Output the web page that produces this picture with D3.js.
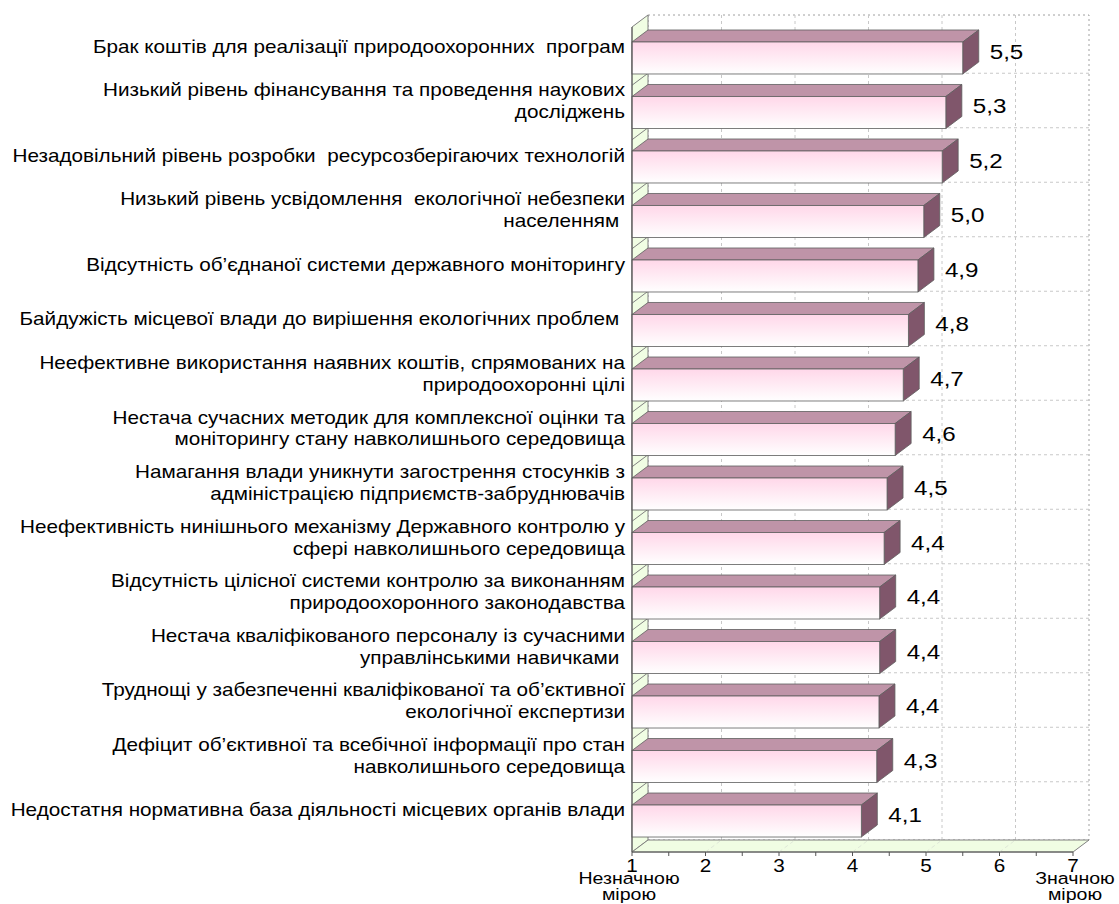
<!DOCTYPE html>
<html>
<head>
<meta charset="utf-8">
<script src="https://cdn.jsdelivr.net/npm/d3@7"></script>
<style>
  body { margin: 0; background: #fff; }
  text { font-family: "Liberation Sans", Arial, sans-serif; fill: #000; white-space: pre; }
</style>
</head>
<body>
<svg id="chart" width="1119" height="904"></svg>
<script>
// categories (top to bottom), each label split into lines
var categories = [
  ['Брак коштів для реалізації природоохоронних  програм'],
  ['Низький рівень фінансування та проведення наукових', 'досліджень'],
  ['Незадовільний рівень розробки  ресурсозберігаючих технологій'],
  ['Низький рівень усвідомлення  екологічної небезпеки', 'населенням '],
  ['Відсутність об’єднаної системи державного моніторингу'],
  ['Байдужість місцевої влади до вирішення екологічних проблем '],
  ['Неефективне використання наявних коштів, спрямованих на', 'природоохоронні цілі'],
  ['Нестача сучасних методик для комплексної оцінки та', 'моніторингу стану навколишнього середовища'],
  ['Намагання влади уникнути загострення стосунків з', 'адміністрацією підприємств-забруднювачів'],
  ['Неефективність нинішнього механізму Державного контролю у', 'сфері навколишнього середовища'],
  ['Відсутність цілісної системи контролю за виконанням', 'природоохоронного законодавства'],
  ['Нестача кваліфікованого персоналу із сучасними', 'управлінськими навичками '],
  ['Труднощі у забезпеченні кваліфікованої та об’єктивної', 'екологічної експертизи'],
  ['Дефіцит об’єктивної та всебічної інформації про стан', 'навколишнього середовища'],
  ['Недостатня нормативна база діяльності місцевих органів влади']
];

// mean score
var values = [5.50, 5.27, 5.22, 4.97, 4.89, 4.76, 4.69, 4.58, 4.47, 4.43, 4.37, 4.37, 4.36, 4.33, 4.12];

var ticks = [1, 2, 3, 4, 5, 6, 7];
var axisEndLabels = [['Незначною', 'мірою'], ['Значною', 'мірою']];

var svg = d3.select('#chart');

// 3d depth offset of the back plane
var dx = 16, dy = -12;
// the source picture is stretched sideways, so text is too
var sx = 1.15;

var x = d3.scaleLinear().domain([1, 7]).range([632, 1073]);
var y = d3.scaleBand()
  .domain(d3.range(categories.length))
  .range([27, 852])
  .paddingInner(0.413)
  .paddingOuter(0.275);

var top0 = 27, bottom0 = 852;
var wallFill = '#f0fde3', gridCol = '#c8c8c8', edgeCol = '#808080';

var defs = svg.append('defs');
var grad = defs.append('linearGradient').attr('id', 'frontGrad')
  .attr('x1', 0).attr('y1', 0).attr('x2', 0).attr('y2', 1);
grad.append('stop').attr('offset', '0%').attr('stop-color', '#ffd7e9');
grad.append('stop').attr('offset', '100%').attr('stop-color', '#ffffff');

var pts = function(a) { return a.map(function(p) { return p.join(','); }).join(' '); };

// writes text lines at (tx, ty) with sideways stretch
function stretchedText(sel, tx, ty, lines, lineH) {
  sel.attr('transform', 'translate(' + tx + ',' + ty + ') scale(' + sx + ',1)');
  lines.forEach(function(line, k) {
    sel.append('tspan').attr('x', 0).attr('y', k * lineH).text(line);
  });
}

// back wall
var back = svg.append('g');
back.append('rect')
  .attr('x', x(1) + dx).attr('y', top0 + dy)
  .attr('width', x(7) - x(1)).attr('height', bottom0 - top0)
  .attr('fill', '#fff').attr('stroke', '#a0a0a0')
  .attr('stroke-dasharray', '2,3');

back.selectAll('.vgrid').data(ticks.slice(1, -1)).enter().append('line')
  .attr('x1', function(d) { return x(d) + dx; }).attr('x2', function(d) { return x(d) + dx; })
  .attr('y1', top0 + dy).attr('y2', bottom0 + dy)
  .attr('stroke', gridCol).attr('stroke-dasharray', '3,3');

var bounds = d3.range(1, categories.length).map(function(i) {
  return y(i) - y.step() * y.paddingInner() / 2;
});

back.selectAll('.hgrid').data(bounds).enter().append('line')
  .attr('x1', x(1) + dx).attr('x2', x(7) + dx)
  .attr('y1', function(d) { return d + dy; }).attr('y2', function(d) { return d + dy; })
  .attr('stroke', gridCol).attr('stroke-dasharray', '3,3');

// left wall
svg.append('polygon')
  .attr('points', pts([[x(1), top0], [x(1) + dx, top0 + dy], [x(1) + dx, bottom0 + dy], [x(1), bottom0]]))
  .attr('fill', wallFill).attr('stroke', edgeCol);
svg.selectAll('.wline').data(bounds).enter().append('line')
  .attr('x1', x(1)).attr('y1', function(d) { return d; })
  .attr('x2', x(1) + dx).attr('y2', function(d) { return d + dy; })
  .attr('stroke', edgeCol);

// floor
svg.append('polygon')
  .attr('points', pts([[x(1), bottom0], [x(1) + dx, bottom0 + dy], [x(7) + dx, bottom0 + dy], [x(7), bottom0]]))
  .attr('fill', wallFill).attr('stroke', edgeCol);
svg.selectAll('.fline').data(ticks.slice(1, -1)).enter().append('line')
  .attr('x1', function(d) { return x(d); }).attr('y1', bottom0)
  .attr('x2', function(d) { return x(d) + dx; }).attr('y2', bottom0 + dy)
  .attr('stroke', '#dfe8d8').attr('stroke-dasharray', '4,3');

// bars
var bars = svg.selectAll('.bar').data(values).enter().append('g').attr('class', 'bar');

bars.append('polygon')
  .attr('points', function(d, i) {
    var yt = y(i), x0 = x(1), x1 = x(d);
    return pts([[x0, yt], [x0 + dx, yt + dy], [x1 + dx, yt + dy], [x1, yt]]);
  })
  .attr('fill', '#bf94a8').attr('stroke', '#5e5e5e').attr('stroke-width', 0.8);

bars.append('polygon')
  .attr('points', function(d, i) {
    var yt = y(i), yb = y(i) + y.bandwidth(), x1 = x(d);
    return pts([[x1, yt], [x1 + dx, yt + dy], [x1 + dx, yb + dy], [x1, yb]]);
  })
  .attr('fill', '#80566b').attr('stroke', '#5e5e5e').attr('stroke-width', 0.8);

bars.append('rect')
  .attr('x', x(1)).attr('y', function(d, i) { return y(i); })
  .attr('width', function(d) { return x(d) - x(1); })
  .attr('height', y.bandwidth())
  .attr('fill', 'url(#frontGrad)').attr('stroke', '#5e5e5e').attr('stroke-width', 0.8);

// value labels
bars.append('text')
  .style('font-size', '21px')
  .each(function(d, i) {
    stretchedText(d3.select(this), x(d) + 27, y(i) + 17,
      [d3.format('.1f')(d).replace('.', ',')], 0);
  });

// front axis lines
svg.append('line').attr('x1', x(1)).attr('x2', x(1)).attr('y1', top0).attr('y2', bottom0)
  .attr('stroke', '#555');
svg.append('line').attr('x1', x(1)).attr('x2', x(7)).attr('y1', bottom0).attr('y2', bottom0)
  .attr('stroke', '#555');
svg.selectAll('.tick').data(d3.range(1, 7.01, 0.5)).enter().append('line')
  .attr('x1', function(d) { return x(d); }).attr('x2', function(d) { return x(d); })
  .attr('y1', bottom0).attr('y2', bottom0 + 4)
  .attr('stroke', '#555');

svg.selectAll('.ticklabel').data(ticks).enter().append('text')
  .attr('text-anchor', 'middle').style('font-size', '18px')
  .each(function(d) { stretchedText(d3.select(this), x(d), 872, [String(d)], 0); });

svg.selectAll('.endlabel').data(axisEndLabels).enter().append('text')
  .attr('text-anchor', 'middle').style('font-size', '17px')
  .each(function(d, i) {
    stretchedText(d3.select(this), i === 0 ? x(1) - 3 : x(7) + 2, 884, d, 16);
  });

// category labels
svg.selectAll('.cat').data(categories).enter().append('text')
  .attr('text-anchor', 'end').style('font-size', '18px')
  .each(function(d, i) {
    var c = y(i) + 5;
    var first = c + 6 - (d.length - 1) * 11;
    stretchedText(d3.select(this), 625, first, d, 22);
  });
</script>
</body>
</html>
